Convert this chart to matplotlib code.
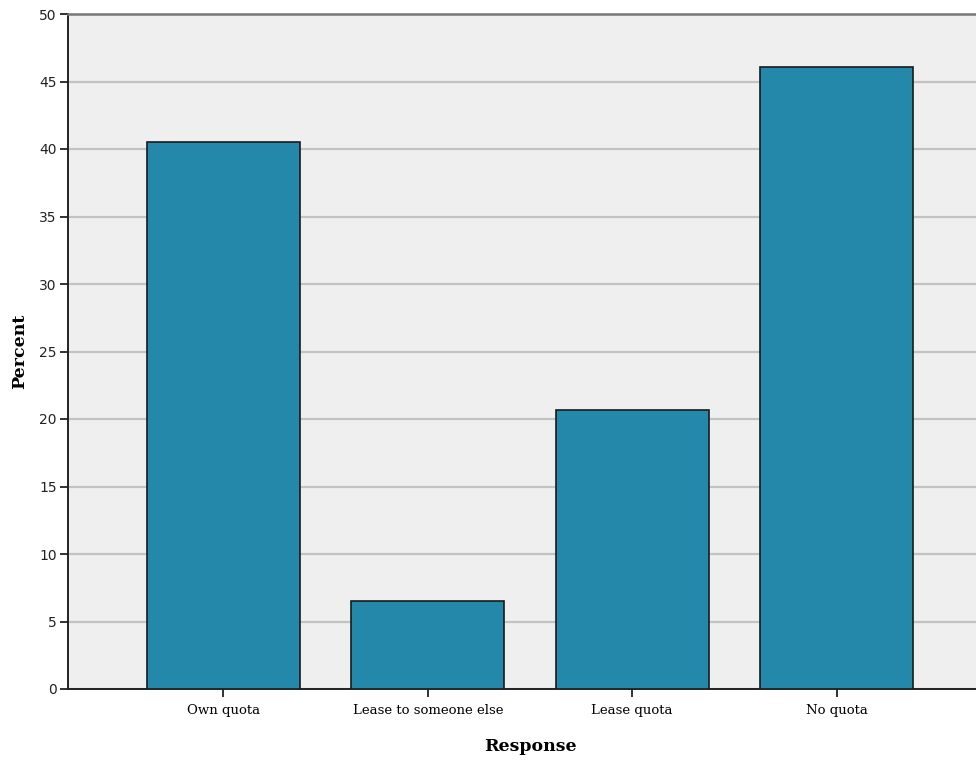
import matplotlib
matplotlib.use("Agg")
import matplotlib.pyplot as plt
import numpy as np

categories = ["Own quota", "Lease to someone else", "Lease quota", "No quota"]
percent = [40.5, 6.5, 20.7, 46.1]
yticks = [0, 5, 10, 15, 20, 25, 30, 35, 40, 45, 50]

fig = plt.figure(figsize=(9.76, 7.64), dpi=100)
ax = fig.add_axes([68/976, 75/764, 924/976, 675/764])
ax.set_facecolor("#EFEFEF")

x = np.arange(len(categories))
ax.bar(x, percent, width=0.75, color="#2488AA", edgecolor="#1a1a1a", linewidth=1.2, zorder=3)

ax.set_xlim(-0.76, 3.76)
ax.set_ylim(0, 50)
ax.set_yticks(yticks)
ax.set_yticklabels([str(v) for v in yticks], fontsize=10, color="#222222", family="DejaVu Sans")
ax.yaxis.grid(True, color="#C2C2C2", linewidth=1.6, zorder=1)
ax.set_axisbelow(True)

ax.set_xticks(x)
ax.set_xticklabels(categories, fontsize=9.5, family="DejaVu Serif")
ax.tick_params(axis="y", direction="out", length=6, width=1.3, color="#222222", pad=2)
ax.tick_params(axis="x", direction="out", length=6, width=1.3, color="#222222", pad=5)

for s in ["left", "bottom"]:
    ax.spines[s].set_color("#222222")
    ax.spines[s].set_linewidth(1.4)
ax.spines["top"].set_color("#777777")
ax.spines["top"].set_linewidth(1.8)
ax.spines["right"].set_visible(False)

ax.set_xlabel("Response", fontsize=12.5, fontweight="bold", family="DejaVu Serif", labelpad=15)
ax.set_ylabel("Percent", fontsize=12.5, fontweight="bold", family="DejaVu Serif", labelpad=8)

fig.savefig("out.png", dpi=100)
